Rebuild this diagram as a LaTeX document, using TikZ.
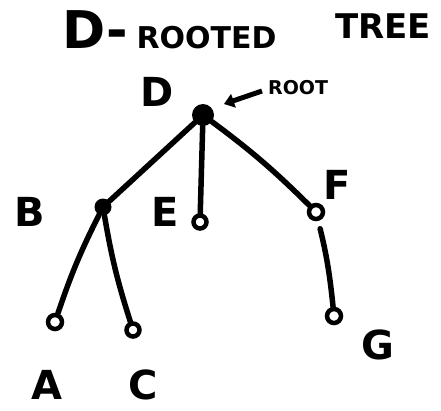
\documentclass[tikz,border=0pt]{standalone}
\usepackage{fontspec}
\setmainfont{DejaVu Sans}
\usetikzlibrary{arrows.meta}
\begin{document}
\begin{tikzpicture}[x=1pt,y=-1pt,
  edge/.style={line width=5.5pt,line cap=round},
  full/.style={circle,fill=black,inner sep=0pt},
  hollow/.style={circle,draw=black,line width=4.5pt,fill=white,inner sep=0pt,minimum size=14pt},
  lbl/.style={font=\bfseries\fontsize{40}{40}\selectfont},
  small/.style={font=\bfseries\fontsize{34}{34}\selectfont}]
\useasboundingbox (0,0) rectangle (441,410);
% title
\node[font=\bfseries\fontsize{52}{52}\selectfont,anchor=base west,inner sep=0pt] (t1) at (62,48) {D-\,{\fontsize{30}{30}\selectfont ROOTED}};
\node[small,anchor=base west,inner sep=0pt] (t2) at (335,38) {TREE};
% nodes
\node[full,minimum size=22pt] (d) at (203,115) {};
\node[full,minimum size=17pt] (b) at (103,207) {};
\node[hollow,minimum size=13pt] (e) at (200,222) {};
\node[hollow] (f) at (316,212) {};
\node[hollow] (a) at (55,322) {};
\node[hollow,minimum size=13pt] (c) at (133,330) {};
\node[hollow] (g) at (334,316) {};
% labels
\node[lbl] (ld) at (157,92) {D};
\node[lbl] (lb) at (30,212) {B};
\node[lbl] (le) at (165,212) {E};
\node[lbl] (lf) at (337,185) {F};
\node[lbl] (lg) at (378,345) {G};
\node[lbl] (la) at (47,385) {A};
\node[lbl] (lc) at (143,385) {C};
\node[font=\bfseries\fontsize{19}{19}\selectfont,anchor=west,inner sep=0pt] (lroot) at (268,88) {ROOT};
\coordinate (rs) at (262,91);
\coordinate (re) at (224,104);
\draw[line width=5pt,-{Triangle[length=10pt,width=14pt]}] (rs) -- (re);
% edges
\draw[edge] (d) -- (b);
\draw[edge] (d) -- (e);
\draw[edge] (d) to[bend left=4] (f);
\draw[edge] (b) to[bend right=4] (a);
\draw[edge] (b) to[bend right=4] (c);
\draw[edge,shorten <=8pt] (f) to[bend left=4] (g);
\end{tikzpicture}
\end{document}
